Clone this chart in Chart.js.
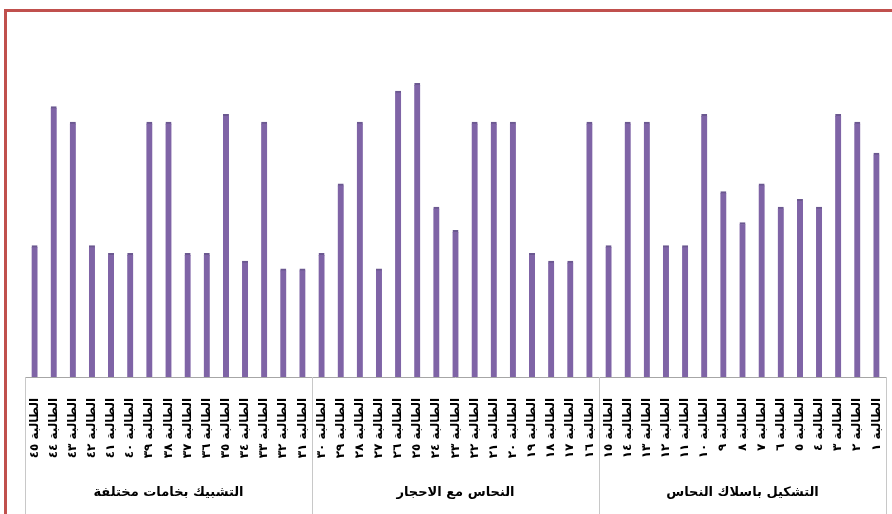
<!DOCTYPE html>
<html>
<head>
<meta charset="utf-8">
<script src="https://cdn.jsdelivr.net/npm/chart.js@4.4.1/dist/chart.umd.min.js"></script>
<style>
html,body{margin:0;padding:0;background:#fff;}
canvas{display:block;}
</style>
</head>
<body>
<canvas id="c" width="892" height="514"></canvas>
<script>
// Category labels (student numbers), grouped left to right
const labelsGroup1 = ['الطالبة ٤٥','الطالبة ٤٤','الطالبة ٤٣','الطالبة ٤٢','الطالبة ٤١','الطالبة ٤٠','الطالبة ٣٩','الطالبة ٣٨','الطالبة ٣٧','الطالبة ٣٦','الطالبة ٣٥','الطالبة ٣٤','الطالبة ٣٣','الطالبة ٣٢','الطالبة ٣١'];
const labelsGroup2 = ['الطالبة ٣٠','الطالبة ٢٩','الطالبة ٢٨','الطالبة ٢٧','الطالبة ٢٦','الطالبة ٢٥','الطالبة ٢٤','الطالبة ٢٣','الطالبة ٢٢','الطالبة ٢١','الطالبة ٢٠','الطالبة ١٩','الطالبة ١٨','الطالبة ١٧','الطالبة ١٦'];
const labelsGroup3 = ['الطالبة ١٥','الطالبة ١٤','الطالبة ١٣','الطالبة ١٢','الطالبة ١١','الطالبة ١٠','الطالبة ٩','الطالبة ٨','الطالبة ٧','الطالبة ٦','الطالبة ٥','الطالبة ٤','الطالبة ٣','الطالبة ٢','الطالبة ١'];

// Group (second-level category) names
const groupNames = ['التشبيك بخامات مختلفة', 'النحاس مع الاحجار', 'التشكيل باسلاك النحاس'];

// Scores per group
const scoresGroup1 = [17, 35, 33, 17, 16, 16, 33, 33, 16, 16, 34, 15, 33, 14, 14];
const scoresGroup2 = [16, 25, 33, 14, 37, 38, 22, 19, 33, 33, 33, 16, 15, 15, 33];
const scoresGroup3 = [17, 33, 33, 17, 17, 34, 24, 20, 25, 22, 23, 22, 34, 33, 29];

const categories = labelsGroup1.concat(labelsGroup2, labelsGroup3);
const scores = scoresGroup1.concat(scoresGroup2, scoresGroup3);
const groupSizes = [labelsGroup1.length, labelsGroup2.length, labelsGroup3.length];

const framePlugin = {
  id: 'frame',
  beforeDraw(chart) {
    const ctx = chart.ctx;
    ctx.save();
    ctx.fillStyle = '#ffffff';
    ctx.fillRect(0, 0, chart.width, chart.height);
    ctx.restore();
  },
  afterDraw(chart) {
    const ctx = chart.ctx;
    const xs = chart.scales.x;
    const area = chart.chartArea;
    const step = xs.getPixelForValue(1) - xs.getPixelForValue(0);
    ctx.save();
    // axis line
    ctx.strokeStyle = '#a6a6a6';
    ctx.lineWidth = 1;
    ctx.beginPath();
    ctx.moveTo(area.left, Math.round(area.bottom) + 0.5);
    ctx.lineTo(area.right, Math.round(area.bottom) + 0.5);
    ctx.stroke();
    // group dividers and names
    let start = 0;
    const bounds = [];
    bounds.push(xs.getPixelForValue(0) - step / 2);
    groupSizes.forEach(n => {
      start += n;
      bounds.push(xs.getPixelForValue(start - 1) + step / 2);
    });
    ctx.strokeStyle = '#c8c8c8';
    bounds.forEach(b => {
      ctx.beginPath();
      ctx.moveTo(Math.round(b) + 0.5, area.bottom);
      ctx.lineTo(Math.round(b) + 0.5, chart.height);
      ctx.stroke();
    });
    ctx.fillStyle = '#000';
    ctx.font = 'bold 13px "DejaVu Sans"';
    ctx.textAlign = 'center';
    ctx.textBaseline = 'middle';
    groupNames.forEach((g, i) => {
      ctx.fillText(g, (bounds[i] + bounds[i + 1]) / 2, 493);
    });
    // red outer frame
    ctx.strokeStyle = '#c0504d';
    ctx.lineWidth = 3;
    ctx.beginPath();
    ctx.moveTo(5.5, chart.height + 5);
    ctx.lineTo(5.5, 10.5);
    ctx.lineTo(chart.width + 5, 10.5);
    ctx.stroke();
    ctx.restore();
  }
};

new Chart(document.getElementById('c'), {
  type: 'bar',
  data: {
    labels: categories,
    datasets: [{
      data: scores,
      backgroundColor: '#7f64a6',
      borderColor: '#6b5890',
      borderWidth: {top: 2, left: 0, right: 0, bottom: 0},
      barThickness: 6
    }]
  },
  options: {
    responsive: false,
    animation: false,
    devicePixelRatio: 1,
    layout: {padding: {left: 25, right: 6, top: 68, bottom: 0}},
    plugins: {legend: {display: false}, tooltip: {enabled: false}},
    scales: {
      x: {
        grid: {display: false},
        border: {display: false},
        afterFit(scale) {
          scale.height = 137;
          scale.paddingLeft = 0;
          scale.paddingRight = 0;
        },
        ticks: {
          autoSkip: false,
          minRotation: 90,
          maxRotation: 90,
          padding: 13,
          color: '#000',
          font: {family: 'DejaVu Sans', size: 12, weight: 'bold'}
        }
      },
      y: {
        display: false,
        min: 0,
        max: 40
      }
    }
  },
  plugins: [framePlugin]
});
</script>
</body>
</html>
